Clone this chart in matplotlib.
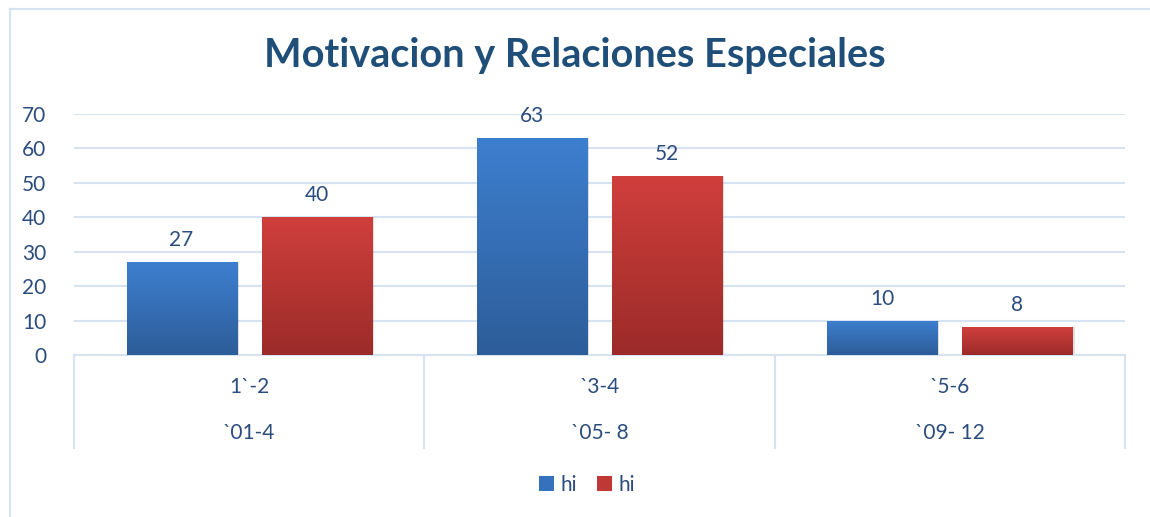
import numpy as np
import matplotlib
matplotlib.use("Agg")
import matplotlib.pyplot as plt
from matplotlib.patches import Rectangle, Patch
from matplotlib.lines import Line2D

plt.rcParams['font.family'] = ['Lato', 'DejaVu Sans']

# data
top_labels = ["1`-2", "`3-4", "`5-6"]
bottom_labels = ["`01-4", "`05- 8", "`09- 12"]
serie_a = [27, 63, 10]
serie_b = [40, 52, 8]
series_names = ["hi", "hi"]

txt = '#2b4c7e'
grid_c = '#d6e3f3'

fig = plt.figure(figsize=(11.5, 5.17), dpi=100)
ax = fig.add_axes([74 / 1150, 1 - 355 / 517, (1125 - 74) / 1150, (355 - 114) / 517])

# outer chart border (only top and left are in frame)
fig.lines.append(Line2D([10 / 1150, 10 / 1150], [0, 1 - 9 / 517], transform=fig.transFigure,
                        color=grid_c, lw=1.5))
fig.lines.append(Line2D([10 / 1150, 1], [1 - 9 / 517, 1 - 9 / 517], transform=fig.transFigure,
                        color=grid_c, lw=1.5))

x = np.arange(len(top_labels))
w = 0.314
off = 0.193


def grad_bars(bars, c_top, c_bot):
    cmap = matplotlib.colors.LinearSegmentedColormap.from_list('g', [c_bot, c_top])
    g = np.linspace(0, 1, 256).reshape(-1, 1)
    for b in bars:
        bx, by = b.get_x(), b.get_y()
        bw, bh = b.get_width(), b.get_height()
        # soft shadow
        ax.add_patch(Rectangle((bx + 0.006, by), bw, bh, facecolor='#000000', alpha=0.12,
                               edgecolor='none', zorder=2))
        im = ax.imshow(g, cmap=cmap, origin='lower', aspect='auto',
                       extent=(bx, bx + bw, by, by + bh), zorder=3)
        im.set_clip_path(b)


bars_a = ax.bar(x - off, serie_a, w, color='#3a78c6', zorder=3)
bars_b = ax.bar(x + off, serie_b, w, color='#c63b38', zorder=3)
grad_bars(bars_a, '#3d7fcf', '#2d5d99')
grad_bars(bars_b, '#d03f3c', '#9b2b29')

for xi, v in zip(x - off, serie_a):
    ax.text(xi, v + 3.5, str(v), ha='center', va='bottom', fontsize=15, color=txt)
for xi, v in zip(x + off, serie_b):
    ax.text(xi, v + 3.5, str(v), ha='center', va='bottom', fontsize=15, color=txt)

ax.set_xlim(-0.5, 2.5)
ax.set_ylim(0, 70)
ax.set_yticks(range(0, 71, 10))
ax.yaxis.grid(True, color=grid_c, lw=1.5)
ax.set_axisbelow(True)
ax.set_xticks([])
ax.tick_params(axis='y', length=0, pad=20, labelsize=15, labelcolor=txt)
for s in ['top', 'right', 'left']:
    ax.spines[s].set_visible(False)
ax.spines['bottom'].set_color(grid_c)
ax.spines['bottom'].set_linewidth(1.5)

# two-level category axis
trans = matplotlib.transforms.blended_transform_factory(ax.transData, ax.transAxes)
for xb in [-0.5, 0.5, 1.5, 2.5]:
    ax.plot([xb, xb], [0, -0.386], transform=trans, color=grid_c, lw=1.5, clip_on=False)
for xi, t1, t2 in zip(x, top_labels, bottom_labels):
    ax.text(xi, -0.133, t1, transform=trans, ha='center', va='center', fontsize=15, color=txt)
    ax.text(xi, -0.324, t2, transform=trans, ha='center', va='center', fontsize=15, color=txt)

fig.text(575 / 1150, 1 - 55 / 517, 'Motivacion y Relaciones Especiales', ha='center', va='center',
         fontsize=28.5, fontweight='bold', color='#1f4e79')

handles = [Patch(facecolor='#3572bd', label=series_names[0]),
           Patch(facecolor='#bf3836', label=series_names[1])]
fig.legend(handles=handles, loc='center', bbox_to_anchor=(587 / 1150, 1 - 485 / 517), ncol=2,
           frameon=False, fontsize=15, labelcolor=txt, handlelength=0.7, handleheight=0.7,
           handletextpad=0.3, columnspacing=1.0)

fig.savefig('out.png', dpi=100)
